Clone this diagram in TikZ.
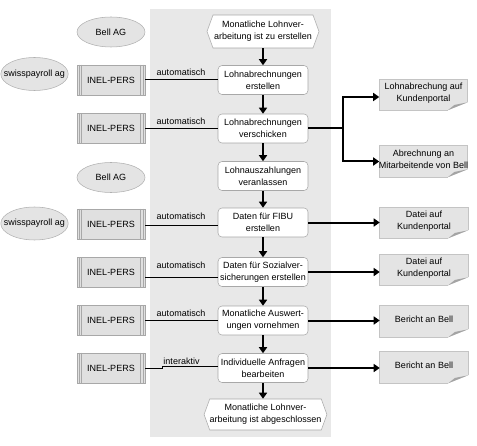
\documentclass[tikz,border=0pt]{standalone}
\usepackage{fontspec}
\setmainfont{Liberation Sans}
\usetikzlibrary{arrows.meta,shapes.geometric,shapes.symbols,calc}
\definecolor{bggray}{HTML}{E8E8E8}
\definecolor{boxline}{HTML}{A8A8A8}
\definecolor{docfill}{HTML}{E4E4E4}
\definecolor{docline}{HTML}{C4C4C4}
\definecolor{curlgray}{HTML}{A4A4A4}
\definecolor{sysfill}{HTML}{E0E0E0}
\definecolor{ellfill}{HTML}{E4E4E4}
\definecolor{ellline}{HTML}{B0B0B0}
\newcommand\docshape[1]{%
  \fill[docfill] (#1.north west) -- (#1.north east) -- ([yshift=6pt]#1.south east) -- ([xshift=-15pt]#1.south east) -- (#1.south west) -- cycle;
  \draw[docline, line width=0.6pt] ([xshift=-15pt]#1.south east) -- (#1.south west) -- (#1.north west) -- (#1.north east) -- ([yshift=6pt]#1.south east);
  \fill[curlgray] ([yshift=6pt]#1.south east) -- ([xshift=-15pt]#1.south east) -- ([xshift=-10pt,yshift=4pt]#1.south east) -- cycle;}
\newcommand\sysdeco[1]{%
  \draw[boxline, line width=0.5pt]
    ([xshift=1.8pt]#1.north west) -- ([xshift=1.8pt]#1.south west)
    ([xshift=3.6pt]#1.north west) -- ([xshift=3.6pt]#1.south west)
    ([xshift=-1.8pt]#1.north east) -- ([xshift=-1.8pt]#1.south east)
    ([xshift=-3.6pt]#1.north east) -- ([xshift=-3.6pt]#1.south east);}
\begin{document}
\begin{tikzpicture}[x=0.75pt,y=-0.75pt,
  every node/.style={font=\fontsize{6.75}{9}\selectfont, inner sep=1pt},
  proc/.style={draw=boxline, fill=white, rounded corners=3pt, minimum width=67.5pt, minimum height=21.75pt, align=center},
  hexa/.style={signal, signal to=east and west, signal pointer angle=140, draw=boxline, fill=white, minimum width=84pt, minimum height=24.75pt, align=center, inner xsep=0pt},
  sys/.style={draw=boxline, fill=sysfill, minimum width=51pt, minimum height=22.5pt},
  org/.style={ellipse, draw=ellline, fill=ellfill, minimum width=51pt, minimum height=22.5pt, inner sep=0pt},
  docbox/.style={minimum width=66pt, minimum height=22.5pt, inner sep=0pt},
  doctext/.style={align=center},
  flow/.style={line width=1.5pt, -{Triangle[length=4.5pt,width=6pt]}},
  link/.style={line width=0.75pt},
  lab/.style={inner sep=0pt}
]
\useasboundingbox (0,0) rectangle (477,445);
\fill[bggray] (150,9) rectangle (331,437);

% main column
\node[hexa] (s) at (263,31.5) {Monatliche Lohnver-\\arbeitung ist zu erstellen};
\node[proc] (b1) at (263,80) {Lohnabrechnungen\\erstellen};
\node[proc] (b2) at (263,128.5) {Lohnabrechnungen\\verschicken};
\node[proc] (b3) at (263,176) {Lohnauszahlungen\\veranlassen};
\node[proc] (b4) at (263,222.5) {Daten f\"ur FIBU\\erstellen};
\node[proc] (b5) at (263,272) {Daten f\"ur Sozialver-\\sicherungen erstellen};
\node[proc] (b6) at (263,320.5) {Monatliche Auswert-\\ungen vornehmen};
\node[proc] (b7) at (263,368) {Individuelle Anfragen\\bearbeiten};
\node[hexa, minimum width=89pt, minimum height=23.25pt] (e) at (265.5,414.5) {Monatliche Lohnver-\\arbeitung ist abgeschlossen};

% organisations
\node[org] (o1) at (111,32) {Bell AG};
\node[org] (o2) at (111,177.5) {Bell AG};
\node[org, minimum width=50pt, minimum height=24.75pt, inner xsep=-5pt] (p1) at (34.5,74) {swisspayroll ag};
\node[org, minimum width=50pt, minimum height=24.75pt, inner xsep=-5pt] (p2) at (34.5,223.5) {swisspayroll ag};

% systems
\node[sys] (i1) at (111,80) {INEL-PERS};
\node[sys] (i2) at (111,128.5) {INEL-PERS};
\node[sys] (i3) at (111,224) {INEL-PERS};
\node[sys] (i4) at (111,272.5) {INEL-PERS};
\node[sys] (i5) at (111,320.5) {INEL-PERS};
\node[sys] (i6) at (111,368) {INEL-PERS};
\foreach \n in {i1,i2,i3,i4,i5,i6} {\sysdeco{\n}}

% documents
\node[docbox] (d1) at (423.5,95) {};
\node[docbox, minimum height=23.25pt] (d2) at (423.5,161.5) {};
\node[docbox] (d3) at (424,223) {};
\node[docbox] (d4) at (424,270) {};
\node[docbox, minimum height=23.25pt] (d5) at (424,321.5) {};
\node[docbox, minimum height=23.25pt] (d6) at (424,367.5) {};
\foreach \n in {d1,d2,d3,d4,d5,d6} {\docshape{\n}}
\node[doctext] (t1) at ([yshift=1.5pt]d1.center) {Lohnabrechung auf\\Kundenportal};
\node[doctext] (t2) at ([yshift=1.5pt]d2.center) {Abrechnung an\\Mitarbeitende von Bell};
\node[doctext] (t3) at ([yshift=1.5pt]d3.center) {Datei auf\\Kundenportal};
\node[doctext] (t4) at ([yshift=1.5pt]d4.center) {Datei auf\\Kundenportal};
\node[doctext] (t5) at ([yshift=1.5pt]d5.center) {Bericht an Bell};
\node[doctext] (t6) at ([yshift=1.5pt]d6.center) {Bericht an Bell};

% main flow
\draw[flow] (s.south) -- (b1.north);
\draw[flow] (b1.south) -- (b2.north);
\draw[flow] (b2.south) -- (b3.north);
\draw[flow] (b3.south) -- (b4.north);
\draw[flow] (b4.south) -- (b5.north);
\draw[flow] (b5.south) -- (b6.north);
\draw[flow] (b6.south) -- (b7.north);
\draw[flow] (b7.south) -- (b7.south |- e.north);

% outputs
\coordinate (fork) at (343,129);
\draw[line width=1.5pt] (b2.east) -- (b2.east -| fork);
\draw[flow] (b2.east -| fork) |- ([yshift=-1.5pt]d1.west);
\draw[flow] (b2.east -| fork) |- (d2.west);
\draw[flow] (b4.east) -- (d3.west |- b4.east);
\draw[flow] (b5.east) -- (d4.west |- b5.east);
\draw[flow] (b6.east) -- (d5.west |- b6.east);
\draw[flow] (b7.east) -- (d6.west |- b7.east);

% system links
\draw[link] (i1.east) -- (b1.west);
\draw[link] (i2.east) -- (b2.west);
\draw[link] ([yshift=-0.75pt]i3.east) -- ([yshift=-0.75pt]i3.east -| b4.west);
\draw[link] ([yshift=-3.4pt]i4.east) -- ([yshift=-3.4pt]i4.east -| b5.west);
\draw[link] (i5.east) -- (b6.west);
\coordinate (kink) at (162,368);
\draw[link] (i6.east) -- (kink) -- ++(0,-2) -- ([yshift=1.5pt]b7.west);

% labels
\node[lab] (l1) at (181,72) {automatisch};
\node[lab] (l2) at (181,121) {automatisch};
\node[lab] (l3) at (181,216.5) {automatisch};
\node[lab] (l4) at (181,265) {automatisch};
\node[lab] (l5) at (181,313) {automatisch};
\node[lab] (l6) at (181.5,361) {interaktiv};
\end{tikzpicture}
\end{document}
